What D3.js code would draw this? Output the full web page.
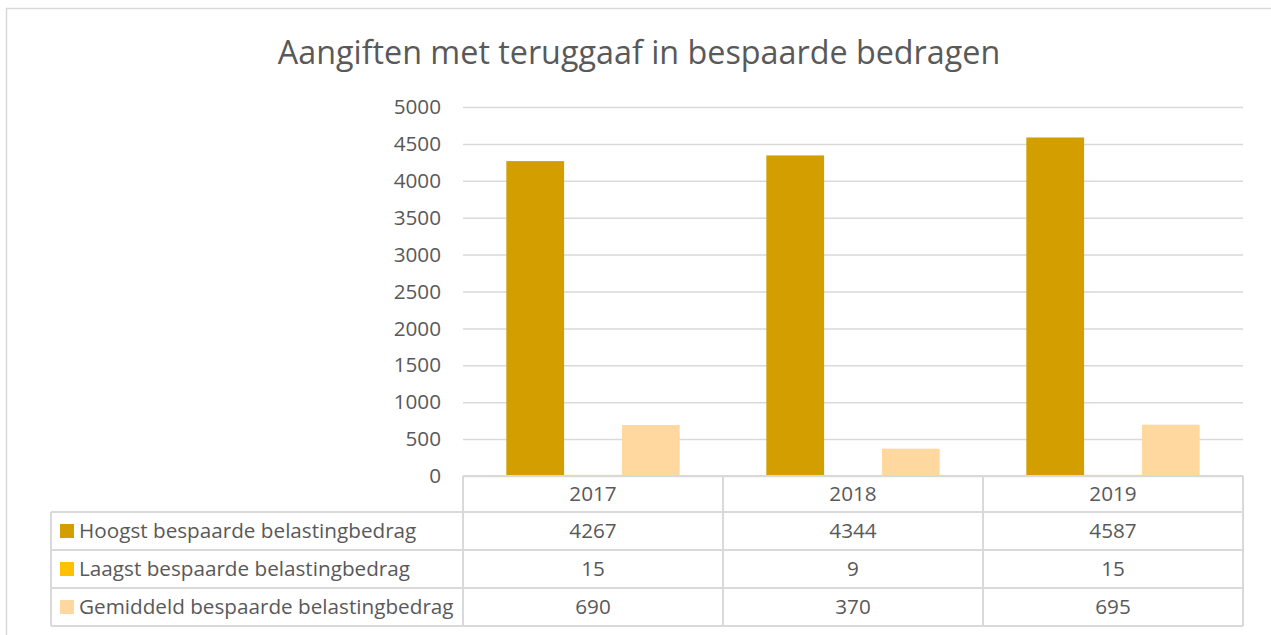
<!DOCTYPE html>
<html>
<head>
<meta charset="utf-8">
<script src="https://cdn.jsdelivr.net/npm/d3@7"></script>
<style>
  body { margin: 0; background: #fff; }
  text { font-family: "Open Sans", Lato, sans-serif; fill: #595959; }
</style>
</head>
<body>
<div id="viz"></div>
<script>
// data
const years = ["2017", "2018", "2019"];
const seriesNames = [
    "Hoogst bespaarde belastingbedrag",
    "Laagst bespaarde belastingbedrag",
    "Gemiddeld bespaarde belastingbedrag"
];
const hoogst = [4267, 4344, 4587];
const laagst = [15, 9, 15];
const gemiddeld = [690, 370, 695];
const yTicks = [0, 500, 1000, 1500, 2000, 2500, 3000, 3500, 4000, 4500, 5000];
const colors = ["#d39f00", "#ffc000", "#ffd8a0"];

const title = "Aangiften met teruggaaf in bespaarde bedragen";

function drawChart() {
    const dimensions = {
        width: 1271,
        height: 635,
        plotLeft: 463,
        plotRight: 1243,
        plotTop: 107,
        plotBottom: 476,
        tableLeft: 51,
        headerHeight: 36,
        rowHeight: 38
    };
    const fontSize = '20.7px';

    const values = [hoogst, laagst, gemiddeld];

    const svg = d3.select('#viz').append('svg')
        .attr('width', dimensions.width)
        .attr('height', dimensions.height);

    // chart border
    svg.append('rect')
        .attr('x', 6.5).attr('y', 8.5)
        .attr('width', 1300).attr('height', 700)
        .attr('fill', 'none')
        .attr('stroke', '#d9d9d9')
        .attr('stroke-width', 1.5);

    svg.append('text')
        .attr('x', 639)
        .attr('y', 64)
        .attr('text-anchor', 'middle')
        .style('font-size', '32.3px')
        .text(title);

    const x = d3.scaleBand()
        .domain(years)
        .range([dimensions.plotLeft, dimensions.plotRight])
        .padding(0);

    const xInner = d3.scaleBand()
        .domain(d3.range(seriesNames.length))
        .range([0, x.bandwidth()])
        .paddingInner(0)
        .paddingOuter(0.75);

    const y = d3.scaleLinear()
        .domain([0, 5000])
        .range([dimensions.plotBottom, dimensions.plotTop]);

    // gridlines + tick labels
    const yAxis = d3.axisLeft(y)
        .tickValues(yTicks)
        .tickSize(-(dimensions.plotRight - dimensions.plotLeft))
        .tickPadding(22)
        .tickFormat(d3.format('d'));

    const gAxis = svg.append('g')
        .attr('transform', `translate(${dimensions.plotLeft},0)`)
        .call(yAxis);
    gAxis.select('.domain').remove();
    gAxis.selectAll('.tick line')
        .attr('stroke', '#d9d9d9')
        .attr('stroke-width', 1.5);
    gAxis.selectAll('.tick text')
        .attr('fill', '#595959')
        .style('font-size', fontSize)
        .style('font-family', '"Open Sans", sans-serif');

    // bars
    const groups = svg.append('g')
        .selectAll('g')
        .data(years)
        .enter().append('g')
            .attr('transform', d => `translate(${x(d)},0)`);

    groups.selectAll('rect')
        .data((d, i) => values.map((s, k) => ({ k: k, v: s[i] })))
        .enter().append('rect')
            .attr('x', d => xInner(d.k))
            .attr('width', xInner.bandwidth())
            .attr('y', d => y(d.v))
            .attr('height', d => y(0) - y(d.v))
            .attr('fill', d => colors[d.k]);

    // data table
    const table = svg.append('g');
    const lineColor = '#d9d9d9';
    const top = dimensions.plotBottom;
    const rowsTop = top + dimensions.headerHeight;
    const bottom = rowsTop + dimensions.rowHeight * seriesNames.length;

    // horizontal lines
    table.append('line')
        .attr('x1', dimensions.plotLeft).attr('x2', dimensions.plotRight)
        .attr('y1', top).attr('y2', top);
    for (let r = 0; r <= seriesNames.length; r++) {
        const yy = rowsTop + r * dimensions.rowHeight;
        table.append('line')
            .attr('x1', dimensions.tableLeft).attr('x2', dimensions.plotRight)
            .attr('y1', yy).attr('y2', yy);
    }
    // vertical lines
    table.append('line')
        .attr('x1', dimensions.tableLeft).attr('x2', dimensions.tableLeft)
        .attr('y1', rowsTop).attr('y2', bottom);
    years.forEach(yr => {
        table.append('line')
            .attr('x1', x(yr)).attr('x2', x(yr))
            .attr('y1', top).attr('y2', bottom);
    });
    table.append('line')
        .attr('x1', dimensions.plotRight).attr('x2', dimensions.plotRight)
        .attr('y1', top).attr('y2', bottom);
    table.selectAll('line')
        .attr('stroke', lineColor)
        .attr('stroke-width', 2);

    // header labels
    table.selectAll('.year')
        .data(years)
        .enter().append('text')
            .attr('class', 'year')
            .attr('x', d => x(d) + x.bandwidth() / 2)
            .attr('y', top + dimensions.headerHeight / 2 + 7)
            .attr('text-anchor', 'middle')
            .style('font-size', fontSize)
            .text(d => d);

    seriesNames.forEach((name, k) => {
        const cy = rowsTop + k * dimensions.rowHeight + dimensions.rowHeight / 2;
        table.append('rect')
            .attr('x', 60).attr('y', cy - 7)
            .attr('width', 14).attr('height', 14)
            .attr('fill', colors[k]);
        table.append('text')
            .attr('x', 79)
            .attr('y', cy + 7)
            .style('font-size', fontSize)
            .text(name);
        years.forEach((yr, i) => {
            table.append('text')
                .attr('x', x(yr) + x.bandwidth() / 2)
                .attr('y', cy + 7)
                .attr('text-anchor', 'middle')
                .style('font-size', fontSize)
                .text(values[k][i]);
        });
    });
}

drawChart();
</script>
</body>
</html>
